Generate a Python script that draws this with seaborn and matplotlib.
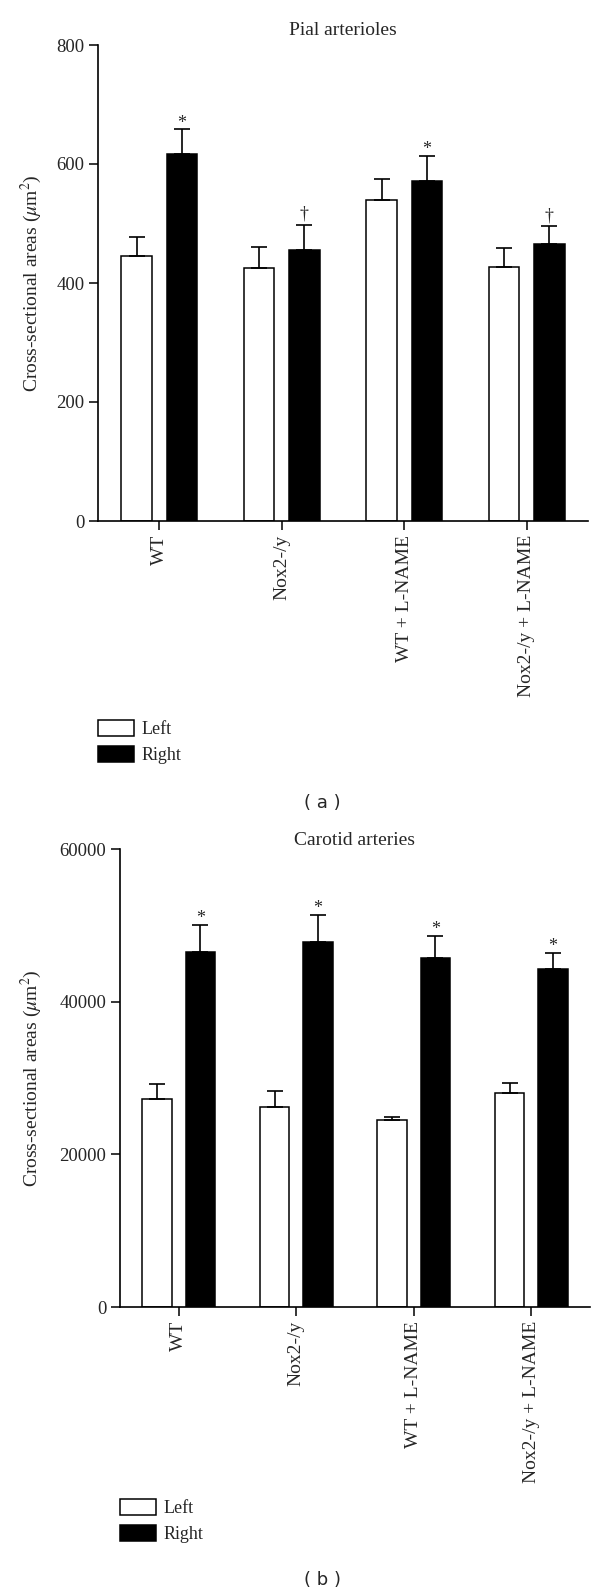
import numpy as np
import pandas as pd
import matplotlib
matplotlib.use('Agg')
import matplotlib.pyplot as plt
import seaborn as sns

sns.set_style('ticks')
plt.rcParams['font.family'] = ['Liberation Serif', 'DejaVu Serif']
plt.rcParams['mathtext.fontset'] = 'stix'

GROUPS = ['WT', 'Nox2-/y', 'WT + L-NAME', 'Nox2-/y + L-NAME']
SIDES = ['Left', 'Right']

PIAL_LEFT = [445, 425, 540, 427]
PIAL_RIGHT = [617, 456, 572, 465]
PIAL_LEFT_SEM = [32, 35, 35, 31]
PIAL_RIGHT_SEM = [41, 42, 41, 30]
PIAL_MARKS = ['*', '\u2020', '*', '\u2020']

CAROTID_LEFT = [27300, 26200, 24500, 28000]
CAROTID_RIGHT = [46450, 47800, 45750, 44300]
CAROTID_LEFT_SEM = [1900, 2100, 350, 1300]
CAROTID_RIGHT_SEM = [3550, 3600, 2850, 2100]
CAROTID_MARKS = ['*', '*', '*', '*']

PALETTE = {'Left': 'white', 'Right': 'black'}
MARK_OFFSET = {'*': -1.5, '\u2020': 1.5}


def draw_panel(ax, left, right, left_sem, right_sem, marks, yticks):
    df = pd.DataFrame({
        'Group': GROUPS * 2,
        'Side': ['Left'] * len(GROUPS) + ['Right'] * len(GROUPS),
        'Area': list(left) + list(right),
    })
    sns.barplot(data=df, x='Group', y='Area', hue='Side', hue_order=SIDES,
                order=GROUPS, palette=PALETTE, edgecolor='black', linewidth=1.1,
                width=0.74, gap=0.32, errorbar=None, ax=ax)

    # one-sided SEM bars on top of each bar
    for cont, sem in zip(ax.containers, [left_sem, right_sem]):
        xs = [p.get_x() + p.get_width() / 2 for p in cont.patches]
        ys = [p.get_height() for p in cont.patches]
        ax.errorbar(xs, ys, yerr=[np.zeros(len(sem)), sem], fmt='none',
                    ecolor='black', elinewidth=1.2, capsize=5.5, capthick=1.2, zorder=3)

    for p, s, m in zip(ax.containers[1].patches, right_sem, marks):
        ax.annotate(m, (p.get_x() + p.get_width() / 2, p.get_height() + s),
                    xytext=(0, MARK_OFFSET[m]), textcoords='offset points',
                    ha='center', va='bottom', fontsize=13)

    ax.set_xlim(-0.5, 3.5)
    ax.set_ylim(0, yticks[-1])
    ax.set_yticks(yticks)
    ax.set_yticklabels([str(t) for t in yticks], fontsize=13.5)
    ax.set_xticks(range(len(GROUPS)))
    ax.set_xticklabels(GROUPS, rotation=90, fontsize=14)
    ax.set_xlabel('')
    ax.set_ylabel(r'Cross-sectional areas ($\mu$m$^2$)', fontsize=14)
    ax.tick_params(axis='both', length=6.3, width=1.1, color='black')
    for sp in ['left', 'bottom']:
        ax.spines[sp].set_linewidth(1.2)
        ax.spines[sp].set_color('black')
    sns.despine(ax=ax)
    leg = ax.get_legend()
    if leg is not None:
        leg.remove()


fig = plt.figure(figsize=(6, 15.95), dpi=100)

ax1 = fig.add_axes([98 / 600, 1 - 521 / 1595, 490 / 600, 476 / 1595])
draw_panel(ax1, PIAL_LEFT, PIAL_RIGHT, PIAL_LEFT_SEM, PIAL_RIGHT_SEM, PIAL_MARKS,
           [0, 200, 400, 600, 800])
ax1.yaxis.set_label_coords(-0.11, 0.5)
ax1.set_title('Pial arterioles', fontsize=14, pad=7)

ax2 = fig.add_axes([120 / 600, 1 - 1307 / 1595, 470 / 600, 458 / 1595])
draw_panel(ax2, CAROTID_LEFT, CAROTID_RIGHT, CAROTID_LEFT_SEM, CAROTID_RIGHT_SEM,
           CAROTID_MARKS, [0, 20000, 40000, 60000])
ax2.yaxis.set_label_coords(-0.162, 0.5)
t2 = ax2.set_title('Carotid arteries', fontsize=14, pad=0)
t2.set_va('center')

for ax, ypos in [(ax1, 1 - 720 / 1595), (ax2, 1 - 1499 / 1595)]:
    handles, labels = ax.get_legend_handles_labels()
    x0 = ax.get_position().x0
    fig.legend(handles[:2], labels[:2], loc='upper left', bbox_to_anchor=(x0, ypos),
               frameon=False, fontsize=13, handlelength=2.0, handleheight=0.95,
               handletextpad=0.4, labelspacing=0.45, borderpad=0, borderaxespad=0)

fig.text(0.537, 1 - 803 / 1595, '( a )', ha='center', va='center', fontsize=13,
         family=['DejaVu Sans'])
fig.text(0.537, 1 - 1580 / 1595, '( b )', ha='center', va='center', fontsize=13,
         family=['DejaVu Sans'])

fig.savefig('out.png', dpi=100)
